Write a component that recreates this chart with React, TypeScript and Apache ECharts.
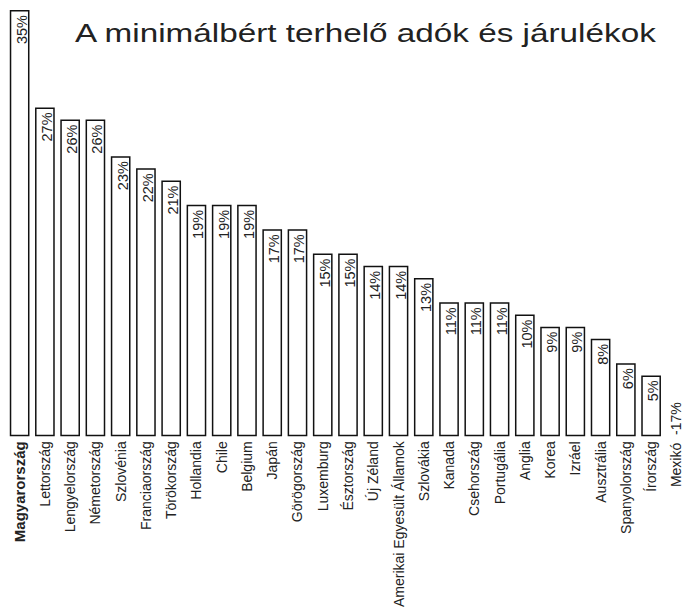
import React, { useEffect, useRef } from "react";
import * as echarts from "echarts";

const categories = [
  "Magyarország", "Lettország", "Lengyelország", "Németország", "Szlovénia",
  "Franciaország", "Törökország", "Hollandia", "Chile", "Belgium", "Japán",
  "Görögország", "Luxemburg", "Észtország", "Új Zéland",
  "Amerikai Egyesült Államok", "Szlovákia", "Kanada", "Csehország",
  "Portugália", "Anglia", "Korea", "Izráel", "Ausztrália", "Spanyolország",
  "Írország", "Mexikó",
];
const values = [
  35, 27, 26, 26, 23, 22, 21, 19, 19, 19, 17, 17, 15, 15, 14, 14, 13, 11, 11,
  11, 10, 9, 9, 8, 6, 5, -17,
];
const highlighted = "Magyarország";
const titleText = "A minimálbért terhelő adók és járulékok";

export default function App() {
  const ref = useRef<HTMLDivElement>(null);
  useEffect(() => {
    if (!ref.current) return;
    const chart = echarts.init(ref.current, undefined, { renderer: "svg" });
    const font = "Liberation Sans, Arial, sans-serif";
    chart.setOption({
      animation: false,
      graphic: [
        {
          type: "text",
          x: 75,
          y: 33,
          scaleX: 1.28,
          style: {
            text: titleText,
            font: `normal 26px ${font}`,
            fill: "#222",
            verticalAlign: "middle",
            align: "left",
          },
        },
      ],
      grid: { left: 7, right: -7, top: 10, bottom: 168, containLabel: false },
      xAxis: {
        type: "category",
        data: categories,
        axisLine: { show: false },
        axisTick: { show: false },
        axisLabel: {
          interval: 0,
          rotate: 90,
          margin: 5,
          fontFamily: font,
          fontSize: 14,
          color: "#222",
          formatter: (name: string, idx: number) => {
            const v = values[idx];
            if (name === highlighted) return `{b|${name}}`;
            if (v < 0) return "";
            return name;
          },
          rich: {
            b: { fontFamily: font, fontSize: 15, fontWeight: "bold", color: "#222" },
          },
        },
      },
      yAxis: { type: "value", min: 0, max: 35, show: false },
      series: [
        {
          type: "bar",
          barCategoryGap: "22%",
          data: values.map((v) =>
            v < 0
              ? { value: v, itemStyle: { opacity: 0 }, label: { show: false } }
              : { value: v }
          ),
          itemStyle: { color: "#fff", borderColor: "#111", borderWidth: 1.5 },
          label: {
            show: true,
            position: "insideTop",
            rotate: 90,
            align: "right",
            verticalAlign: "middle",
            distance: 5,
            offset: [0, 2],
            fontFamily: font,
            fontSize: 14.5,
            color: "#222",
            formatter: (p: any) => `${p.value}%`,
          },
        },
        {
          type: "scatter",
          symbolSize: 0,
          itemStyle: { opacity: 1 },
          data: categories
            .map((c, i) => ({ c, v: values[i] }))
            .filter((d) => d.v < 0)
            .map((d) => ({ value: [d.c, 0], name: `${d.c}  ${d.v}%` })),
          label: {
            show: true,
            position: "inside",
            rotate: 90,
            align: "right",
            verticalAlign: "middle",
            offset: [34, 0],
            fontFamily: font,
            fontSize: 14,
            color: "#222",
            opacity: 1,
            formatter: (p: any) => p.name,
          },
        },
      ],
    });
    return () => chart.dispose();
  }, []);
  return <div ref={ref} style={{ width: 689, height: 610, position: "absolute", left: 0, top: 0 }} />;
}
